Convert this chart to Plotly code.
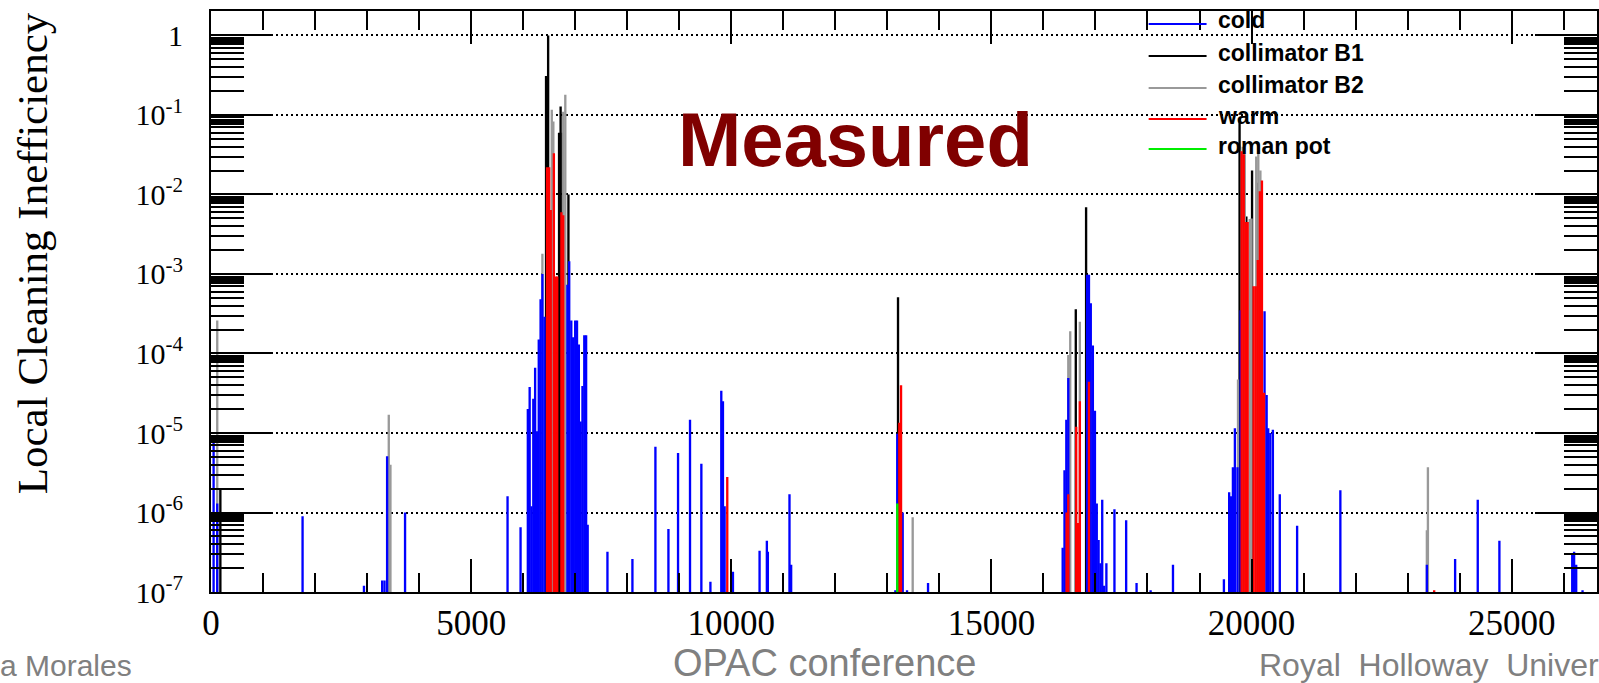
import plotly.graph_objects as go

# Local cleaning inefficiency along the ring, position s [m] and value, one pair per loss category
cold_s = [50, 120, 1760, 2940, 3290, 3335, 3385, 3730, 5700, 5950,
          6090, 6125, 6160, 6195, 6230, 6265, 6300, 6335, 6370, 6410,
          6850, 6885, 6925, 6960, 7000, 7035, 7070, 7105, 7140, 7175, 7210, 7240,
          7620, 8100, 8542, 8792, 8977, 9207, 9425, 9599, 9808, 9840, 9872, 10032,
          10544, 10684, 10703, 11119, 11151,
          13154, 13190, 13295, 13378, 13782,
          16370, 16405, 16440, 16478, 16840, 16875, 16910, 16950, 16990, 17025,
          17060, 17095, 17130, 17165, 17210, 17365, 17590, 17790, 18060, 18490,
          19469, 19570, 19605, 19642, 19680, 19730, 19790,
          20250, 20290, 20320, 20360, 20410, 20543, 20876, 21707,
          23370, 23913, 24348, 24764, 26164, 26200, 26240, 26362]
cold_v = [8.9e-6, 1.3e-6, 9e-7, 1.2e-7, 1.4e-7, 1.4e-7, 5.1e-6, 1.0e-6, 1.6e-6, 6.5e-7,
          2.0e-5, 3.8e-5, 1.2e-6, 2.7e-5, 6.6e-5, 1.05e-5, 1.5e-4, 4.8e-4, 1.0e-3, 2.9e-4,
          7.3e-4, 1.45e-3, 2.6e-4, 1.6e-4, 2.6e-4, 2.6e-4, 1.3e-4, 1.4e-5, 3.9e-5, 1.7e-4, 1.7e-4, 7e-7,
          3.2e-7, 2.6e-7, 6.7e-6, 6.2e-7, 5.6e-6, 1.47e-5, 4.1e-6, 1.35e-7, 3.4e-5, 2.5e-5, 1.2e-6, 1.8e-7,
          3.3e-7, 4.4e-7, 3.2e-7, 1.7e-6, 2.2e-7,
          1.05e-7, 9.8e-6, 1.0e-6, 1.05e-7, 1.3e-7,
          3.6e-7, 3.4e-6, 1.47e-5, 4.9e-5, 9.8e-4, 9.8e-4, 4.3e-4, 1.26e-4, 1.9e-5, 1.3e-6,
          4.5e-7, 2.3e-7, 1.45e-6, 1.2e-7, 2.3e-7, 1.1e-6, 8e-7, 1.3e-7, 1.05e-7, 2.2e-7,
          1.45e-7, 1.8e-6, 1.6e-6, 3.7e-6, 1.15e-5, 3.7e-6, 3.5e-4,
          3.4e-4, 3e-5, 1.15e-5, 1e-5, 1.1e-5, 1.7e-6, 6.8e-7, 1.9e-6,
          2.2e-7, 2.6e-7, 1.45e-6, 4.4e-7, 3e-7, 3.2e-7, 2.2e-7, 1.05e-7]

coll_b1_s = [180, 6440, 6480, 6690, 6720, 6760, 6870, 13205, 16622, 16820,
             19770, 19900, 20010, 20110]
coll_b1_v = [2e-6, 0.31, 1.0, 0.06, 0.128, 0.06, 0.01, 5.1e-4, 3.6e-4, 6.9e-3,
             0.09, 5.3e-3, 0.02, 0.014]

coll_b2_s = [120, 3417, 3449, 6370, 6550, 6580, 6770, 6810, 13487,
             16478, 16515, 16700,
             19740, 19830, 19870, 19965, 20000, 20090, 20130, 20170, 23370, 23390]
coll_b2_v = [2.6e-4, 1.7e-5, 4e-6, 1.8e-3, 0.116, 0.083, 0.11, 0.18, 8.7e-7,
             9.6e-5, 1.9e-4, 2.5e-4,
             4.7e-5, 0.04, 0.032, 4.9e-3, 5e-3, 0.03, 0.045, 0.02, 6e-7, 3.7e-6]

warm_s = [6460, 6500, 6530, 6590, 6625, 6655, 6735, 6770, 9923, 13230, 13263,
          16445, 16478, 16630, 16665, 16700, 16875,
          19810, 19850, 19890, 19925, 20040, 20080, 20120, 20160, 20200, 20240, 23510]
warm_v = [0.022, 0.022, 6.4e-3, 0.033, 9.3e-4, 9.3e-4, 6e-3, 5.5e-3, 2.8e-6, 1.35e-5, 4e-5,
          1e-6, 1.7e-6, 1.2e-5, 7.4e-7, 2.5e-5, 4.4e-5,
          0.035, 0.032, 4.5e-3, 4.5e-3, 7e-4, 7e-4, 1.5e-3, 0.011, 0.015, 3.2e-5, 1.05e-7]

roman_pot_s = [13190]
roman_pot_v = [1.3e-6]

legend_names = ["cold", "collimator B1", "collimator B2", "warm", "roman pot"]
legend_colors = ["#0000ff", "#000000", "#999999", "#ff0000", "#00ee00"]

y_tickvals = [1e-7, 1e-6, 1e-5, 1e-4, 1e-3, 1e-2, 1e-1, 1]
y_ticktext = ["10<sup>-7</sup>", "10<sup>-6</sup>", "10<sup>-5</sup>", "10<sup>-4</sup>",
              "10<sup>-3</sup>", "10<sup>-2</sup>", "10<sup>-1</sup>", "1"]

BIN = 45  # bin width in m
S_MAX = 26640
Y_RANGE = [-7, 0.308]

fig = go.Figure()

# drawing order as in the original: collimators first, then cold, warm, roman pot on top
for s, v, name, color in [
    (coll_b1_s, coll_b1_v, "collimator B1", "#000000"),
    (coll_b2_s, coll_b2_v, "collimator B2", "#999999"),
    (cold_s, cold_v, "cold", "#0000ff"),
    (warm_s, warm_v, "warm", "#ff0000"),
    (roman_pot_s, roman_pot_v, "roman pot", "#00ee00"),
]:
    fig.add_trace(go.Bar(x=s, y=v, name=name, width=BIN,
                         marker=dict(color=color, line=dict(width=0))))

# plot area in pixels: x 211..1599, y 11..592
L, R, T, B = 211, 1599, 11, 592
W, H = 1599, 683


def px(x):
    return (x - L) / (R - L)


def py(y):
    return (B - y) / (B - T)


# hand-drawn ROOT style legend
rows_line = [24, 56, 88, 119, 149]
rows_text = [20, 53, 85, 116, 146]
for name, color, yl, yt in zip(legend_names, legend_colors, rows_line, rows_text):
    fig.add_shape(type="line", xref="paper", yref="paper",
                  x0=px(1150), x1=px(1208), y0=py(yl), y1=py(yl),
                  line=dict(color=color, width=2), layer="above")
    fig.add_annotation(text=name, xref="paper", yref="paper", x=px(1217), y=py(yt),
                       xanchor="left", yanchor="middle", showarrow=False,
                       font=dict(family="Liberation Sans", size=23, color="black", weight="bold"))

fig.add_annotation(text="<b>Measured</b>", xref="paper", yref="paper",
                   x=px(677), y=py(139), xanchor="left", yanchor="middle", showarrow=False,
                   font=dict(family="Liberation Sans", size=76, color="#800000"))

fig.add_annotation(text="Local Cleaning Inefficiency", xref="paper", yref="paper",
                   x=px(32), y=py(253), xanchor="center", yanchor="middle", textangle=-90,
                   showarrow=False, font=dict(family="Liberation Serif", size=43, color="black"))

# slide footer
fig.add_annotation(text="a Morales", xref="paper", yref="paper", x=px(-2), y=py(665),
                   xanchor="left", yanchor="middle", showarrow=False,
                   font=dict(family="Liberation Sans", size=30, color="#808080"))
fig.add_annotation(text="OPAC conference", xref="paper", yref="paper", x=px(825), y=py(663),
                   xanchor="center", yanchor="middle", showarrow=False,
                   font=dict(family="Liberation Sans", size=38, color="#808080"))
fig.add_annotation(text="Royal\u00a0\u00a0Holloway\u00a0\u00a0University", xref="paper", yref="paper",
                   x=px(1259), y=py(665), xanchor="left", yanchor="middle", showarrow=False,
                   font=dict(family="Liberation Sans", size=32, color="#808080"))

minor_factors = [2, 3, 4, 5, 6, 7, 7.8, 8.2, 8.7, 9.3]
y_minor = [f * 10.0 ** e for e in range(-7, 1) for f in minor_factors]

fig.update_layout(
    width=W, height=H,
    margin=dict(l=L, r=W - R, t=T, b=H - B, pad=0),
    paper_bgcolor="white", plot_bgcolor="white",
    barmode="overlay", showlegend=False,
    xaxis=dict(range=[0, S_MAX], tick0=0, dtick=5000, tickformat="d",
               ticks="inside", ticklen=33, tickwidth=2,
               tickcolor="black", showline=True, linecolor="black", linewidth=2, mirror="ticks",
               showgrid=False, zeroline=False,
               minor=dict(dtick=1000, ticks="inside", ticklen=19, tickwidth=2, tickcolor="black",
                          showgrid=False),
               tickfont=dict(family="Liberation Serif", size=35, color="black"),
               ticklabelstandoff=-1),
    yaxis=dict(type="log", range=Y_RANGE, tickmode="array",
               tickvals=y_tickvals, ticktext=y_ticktext,
               ticks="inside", ticklen=62, tickwidth=2, tickcolor="black",
               showline=True, linecolor="black", linewidth=2, mirror="ticks",
               showgrid=True, gridcolor="black", gridwidth=1.5, griddash="2px,3px",
               zeroline=False,
               minor=dict(tickmode="array", tickvals=y_minor, ticks="inside", ticklen=33,
                          tickwidth=2, tickcolor="black", showgrid=False),
               tickfont=dict(family="Liberation Serif", size=30, color="black"),
               ticklabelstandoff=20),
)

# page body default margin would shift the figure by 8px
fig.write_html("out.html", config={"displayModeBar": False},
               post_script="document.body.style.margin='0';")
